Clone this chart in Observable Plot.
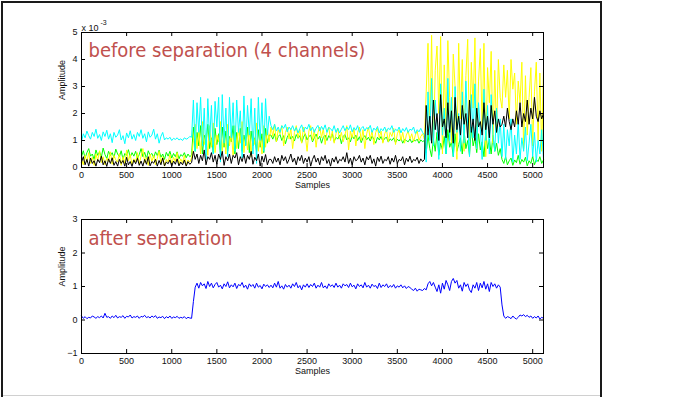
<!DOCTYPE html>
<html><head><meta charset="utf-8">
<script src="https://cdn.jsdelivr.net/npm/d3@7"></script>
<script src="https://cdn.jsdelivr.net/npm/@observablehq/plot@0.6"></script>
<style>
html,body{margin:0;padding:0;background:#fff;}
#fig{position:relative;width:675px;height:397px;overflow:hidden;background:#fff;}
#frame{position:absolute;left:1px;top:1px;width:597px;height:420px;border:2px solid #1a1a1a;border-bottom:none;}
#base{position:absolute;left:3px;top:395px;width:597px;height:1px;background:#d0d0d0;}
.p{position:absolute;left:0;}
</style>
</head><body>
<div id="fig"><div id="frame"></div><div id="base"></div><div class="p" id="top" style="top:0"></div><div class="p" id="bot" style="top:200px"></div></div>
<script>
// readings every 20 samples, from sample 0 to 5120
const sampleStep = 20;
const xTicks = [0, 500, 1000, 1500, 2000, 2500, 3000, 3500, 4000, 4500, 5000];
const topYTicks = [0, 1, 2, 3, 4, 5];
const bottomYTicks = [-1, 0, 1, 2, 3];

// before separation (units of 1e-3)
const greenCh = [
 0.40,0.62,0.35,0.55,0.70,0.42,0.50,0.30,0.65,0.45,
 0.58,0.38,0.72,0.48,0.33,0.60,0.44,0.55,0.36,0.68,
 0.50,0.40,0.62,0.30,0.52,0.45,0.66,0.38,0.55,0.42,
 0.60,0.34,0.48,0.70,0.40,0.56,0.32,0.62,0.46,0.52,
 0.36,0.58,0.44,0.64,0.38,0.50,0.30,0.56,0.42,0.60,
 0.35,0.52,0.40,0.58,0.32,0.48,0.42,0.55,0.36,0.50,
 0.40,0.46,
 1.50,0.60,1.30,0.80,1.55,0.50,1.20,0.90,1.60,0.70,
 1.10,0.55,1.45,0.85,1.25,0.50,1.50,0.75,1.35,0.60,
 1.15,0.95,1.55,0.50,1.30,0.70,1.45,0.60,1.20,0.85,
 1.50,0.55,1.35,0.80,1.10,0.60,1.40,0.75,1.25,0.55,
 1.45,0.90,1.20,
 1.20,1.05,1.25,0.95,1.15,1.22,1.00,1.18,0.88,1.12,
 1.25,1.05,1.15,0.98,1.22,1.08,1.18,0.92,1.12,1.25,
 1.02,1.15,1.20,0.95,1.10,1.24,1.05,1.16,0.90,1.12,
 1.20,1.00,1.18,1.08,1.25,0.96,1.12,1.05,1.20,0.88,
 1.15,1.22,1.02,1.10,0.95,1.18,1.06,1.20,1.00,1.14,
 0.92,1.10,1.18,1.02,1.12,0.98,1.16,1.05,0.90,1.12,
 1.02,1.15,0.96,1.08,1.12,0.94,1.06,1.00,1.10,0.92,
 1.05,0.98,1.08,0.90,1.04,1.00,0.95,1.06,0.92,1.02,
 0.98,1.05,0.90,1.02,0.96,1.00,
 0.55,1.20,0.70,0.40,1.05,0.60,1.30,0.45,0.90,0.65,
 1.15,0.50,1.40,0.75,0.95,0.40,1.25,0.60,0.85,1.10,
 0.50,1.35,0.70,1.00,0.45,1.50,0.80,1.10,0.55,1.25,
 0.65,0.95,0.40,1.30,0.70,1.05,0.50,1.20,0.60,0.90,
 0.45,0.70,
 0.30,0.15,0.40,0.10,0.25,0.35,0.08,0.28,0.18,0.45,
 0.12,0.30,0.20,0.38,0.06,0.25,0.15,0.42,0.10,0.30,
 0.22,0.40,0.15,0.28];
const yellowCh = [
 0.30,0.10,0.45,0.20,0.55,0.15,0.38,0.08,0.50,0.25,
 0.62,0.18,0.40,0.10,0.35,0.22,0.58,0.12,0.45,0.28,
 0.20,0.52,0.08,0.40,0.15,0.65,0.25,0.48,0.10,0.32,
 0.20,0.55,0.12,0.42,0.70,0.18,0.38,0.08,0.50,0.22,
 0.45,0.10,0.35,0.60,0.15,0.40,0.05,0.30,0.20,0.48,
 0.12,0.38,0.22,0.55,0.10,0.32,0.18,0.45,0.08,0.28,
 0.20,0.35,
 1.00,1.60,0.70,1.35,0.50,1.70,0.85,1.25,0.45,1.55,
 0.75,1.65,0.55,1.20,0.95,1.70,0.60,1.40,0.50,1.60,
 0.80,1.30,0.45,1.55,0.70,1.45,0.90,1.70,0.55,1.25,
 0.65,1.50,0.40,1.35,0.85,1.65,0.60,1.20,0.50,1.55,
 0.75,1.40,0.95,
 1.50,1.15,1.60,0.95,1.40,1.25,1.55,0.80,1.30,1.50,
 1.05,1.45,0.70,1.30,1.55,1.10,1.40,0.90,1.50,1.20,
 0.60,1.35,1.55,1.00,1.40,0.75,1.30,1.50,1.10,1.45,
 0.85,1.30,1.50,1.00,1.35,0.90,1.25,1.45,1.05,1.30,
 0.95,1.20,1.55,0.65,1.35,1.10,1.45,0.80,1.30,1.50,
 1.00,1.40,0.70,1.25,1.50,1.05,1.35,0.85,1.30,1.45,
 1.10,1.35,0.90,1.25,1.40,0.95,1.30,1.15,1.45,0.85,
 1.25,1.40,1.00,1.30,0.90,1.20,1.35,1.05,1.25,0.95,
 1.20,1.35,1.00,1.15,1.25,1.05,
 2.80,4.60,1.20,4.90,0.80,3.60,4.50,2.00,4.85,0.50,
 3.80,1.50,4.70,2.60,0.90,4.20,3.00,0.30,4.60,1.80,
 4.00,0.60,3.40,4.75,1.00,3.90,2.20,4.80,0.70,3.20,
 4.40,1.40,4.60,0.40,3.70,2.40,4.30,0.90,3.60,1.30,
 4.00,2.60,
 2.20,3.80,2.60,3.60,1.80,4.00,2.90,3.50,1.60,3.20,
 2.40,3.90,0.70,3.40,1.20,2.60,3.70,0.80,2.80,3.90,
 1.00,3.50,0.60,3.70];
const cyanCh = [
 0.95,1.25,1.10,1.35,1.18,1.05,1.30,1.15,1.42,1.08,
 1.22,1.00,1.32,1.15,1.38,1.05,1.25,0.92,1.30,1.12,
 1.20,1.40,1.02,1.18,0.88,1.28,1.10,1.36,1.05,1.22,
 1.00,1.30,1.15,1.40,1.08,1.25,0.95,1.32,1.12,1.20,
 1.42,1.05,1.25,0.90,1.15,1.30,1.02,1.10,1.05,1.12,
 1.00,1.08,1.04,1.10,1.02,1.06,1.00,1.10,1.05,1.08,
 1.15,1.12,
 2.50,0.60,2.40,1.30,2.60,0.80,2.20,0.30,2.55,1.00,
 2.30,0.50,2.45,1.50,2.60,0.20,2.70,0.90,2.20,0.40,
 2.60,1.10,2.40,0.60,2.50,1.30,2.10,0.35,2.65,0.80,
 2.30,1.20,2.55,0.50,2.20,0.15,2.60,1.00,2.40,0.60,
 2.55,1.20,1.90,
 1.55,1.40,1.60,1.35,1.50,1.30,1.55,1.45,1.60,1.32,
 1.50,1.40,1.55,1.35,1.48,1.28,1.45,1.58,1.32,1.50,
 1.42,1.60,1.36,1.50,1.30,1.46,1.56,1.35,1.52,1.40,
 1.58,1.30,1.48,1.44,1.35,1.55,1.30,1.46,1.28,1.42,
 1.55,1.36,1.50,1.40,1.58,1.32,1.48,1.38,1.55,1.30,
 1.45,1.52,1.35,1.48,1.42,1.56,1.30,1.46,1.38,1.52,
 1.28,1.44,1.36,1.50,1.32,1.46,1.40,1.55,1.30,1.42,
 1.36,1.50,1.28,1.44,1.34,1.48,1.30,1.42,1.38,1.50,
 1.26,1.40,1.32,1.45,1.30,1.20,
 0.20,2.80,1.00,3.30,0.80,2.50,1.60,0.30,3.10,1.20,
 2.20,0.50,3.30,1.00,2.60,0.40,3.00,1.30,2.00,0.60,
 2.80,0.90,3.20,1.50,0.40,2.70,1.10,3.10,0.70,2.40,
 1.40,0.30,2.90,1.00,2.30,0.50,2.70,1.20,0.60,2.20,
 0.90,1.80,
 0.40,1.60,0.30,1.40,0.80,1.80,0.20,1.20,0.50,1.70,
 0.30,1.10,0.60,1.50,0.25,0.90,1.60,0.40,1.30,0.20,
 1.00,0.50,1.40,0.30];
const blackCh = [
 0.20,0.40,0.10,0.30,0.05,0.35,0.15,0.25,0.05,0.30,
 0.18,0.42,0.10,0.25,0.04,0.32,0.15,0.36,0.08,0.22,
 0.05,0.30,0.15,0.26,0.05,0.38,0.10,0.22,0.04,0.28,
 0.14,0.34,0.08,0.24,0.05,0.30,0.12,0.40,0.06,0.22,
 0.16,0.30,0.05,0.26,0.10,0.35,0.06,0.20,0.14,0.28,
 0.05,0.24,0.12,0.32,0.06,0.20,0.10,0.28,0.05,0.22,
 0.12,0.18,
 0.60,0.30,0.50,0.15,0.45,0.25,0.65,0.10,0.40,0.30,
 0.55,0.20,0.45,0.12,0.50,0.30,0.60,0.08,0.40,0.25,
 0.50,0.15,0.45,0.35,0.55,0.10,0.40,0.22,0.50,0.15,
 0.45,0.30,0.60,0.12,0.38,0.25,0.50,0.05,0.42,0.20,
 0.48,0.10,0.30,
 0.30,0.15,0.40,0.20,0.35,0.10,0.45,0.25,0.40,0.15,
 0.30,0.50,0.20,0.35,0.10,0.40,0.25,0.45,0.15,0.35,
 0.20,0.40,0.05,0.30,0.45,0.20,0.35,0.10,0.40,0.25,
 0.45,0.15,0.30,0.05,0.35,0.20,0.40,0.15,0.30,0.25,
 0.40,0.20,0.55,0.15,0.35,0.10,0.40,0.25,0.30,0.45,
 0.20,0.35,0.10,0.40,0.28,0.45,0.15,0.32,0.05,0.38,
 0.22,0.42,0.15,0.30,0.25,0.40,0.12,0.35,0.20,0.45,
 0.15,0.30,0.25,0.40,0.10,0.35,0.22,0.42,0.18,0.30,
 0.25,0.38,0.15,0.32,0.22,0.30,
 2.30,1.20,1.90,0.90,2.50,1.40,2.00,1.00,2.70,1.50,
 1.80,1.10,2.40,1.30,2.10,0.90,2.60,1.40,1.90,1.20,
 2.30,1.60,2.00,1.10,2.50,1.30,1.80,1.00,2.20,1.50,
 1.70,1.20,2.40,1.40,1.90,1.10,2.30,1.60,2.10,1.30,
 1.80,1.50,
 1.60,1.90,1.50,2.20,1.70,1.40,1.80,1.50,2.10,1.60,
 2.40,1.50,2.00,1.70,2.50,1.60,2.20,1.80,2.60,1.90,
 1.70,2.10,1.80,2.00];

// after separation
const separated = [
 0.12,0.05,0.10,0.04,0.08,0.06,0.12,0.09,0.05,0.10,
 0.07,0.12,0.06,0.20,0.08,0.10,0.05,0.12,0.07,0.14,
 0.06,0.10,0.08,0.13,0.05,0.11,0.09,0.15,0.06,0.10,
 0.08,0.12,0.05,0.11,0.09,0.14,0.07,0.10,0.06,0.12,
 0.08,0.13,0.05,0.09,0.07,0.11,0.04,0.10,0.06,0.12,
 0.05,0.09,0.07,0.11,0.05,0.08,0.06,0.10,0.04,0.08,
 0.06,0.05,
 0.55,0.98,1.10,0.95,1.12,1.02,1.08,0.94,1.15,1.00,
 1.10,0.96,1.06,1.12,0.98,1.04,0.93,1.08,1.00,1.14,
 0.96,1.05,0.99,1.10,0.94,1.06,1.02,1.12,0.97,1.04,
 0.92,1.08,1.00,1.06,0.95,1.10,0.98,1.03,0.93,1.07,
 1.00,1.05,0.97,
 1.04,0.96,1.10,0.98,1.15,0.95,1.02,0.92,1.06,0.98,
 1.04,0.95,1.08,1.00,1.12,0.96,1.03,0.90,1.05,0.98,
 1.08,0.97,1.06,1.00,1.10,0.95,1.04,0.98,1.12,0.96,
 1.02,0.94,1.08,1.00,1.05,0.97,1.10,0.98,1.04,0.95,
 1.08,1.02,1.06,0.97,1.10,0.99,1.04,0.93,1.08,1.00,
 1.05,0.96,1.12,0.98,1.04,0.95,1.07,1.00,1.03,0.94,
 1.10,0.97,1.05,1.00,1.08,0.96,1.03,0.98,1.06,0.95,
 1.02,0.98,1.05,0.96,1.02,0.94,1.00,0.97,0.92,0.88,
 0.95,0.86,0.92,0.90,0.88,0.94,
 0.90,1.08,1.15,1.02,1.12,0.98,0.85,1.05,0.80,1.10,
 0.92,1.18,1.05,0.88,1.15,1.24,1.10,1.18,0.95,1.05,
 0.86,1.12,1.00,1.08,0.90,0.82,1.05,0.95,1.12,0.88,
 1.10,0.96,1.15,0.92,1.08,0.85,1.12,1.00,1.08,0.95,
 1.05,0.98,
 0.45,0.12,0.05,0.10,0.08,0.04,0.12,0.06,0.03,0.08,
 0.15,0.12,0.16,0.10,0.14,0.08,0.12,0.05,0.10,0.06,
 0.12,0.03,0.08,0.05];

const channels = [
  {name: "green", values: greenCh, color: "#00ff00"},
  {name: "yellow", values: yellowCh, color: "#ffff00"},
  {name: "cyan", values: cyanCh, color: "#00ffff"},
  {name: "black", values: blackCh, color: "#000000"}
];

const W = 675, ML = 81, MR = 132;
const innerW = W - ML - MR;
const tickFont = "Liberation Sans, Arial, sans-serif";
const fmt = d3.format("d");

function axisMarks(yT, innerH) {
  return [
    Plot.ruleX(xTicks, {insetTop: innerH - 4, stroke: "#000"}),
    Plot.ruleX(xTicks, {insetBottom: innerH - 4, stroke: "#000"}),
    Plot.ruleY(yT, {insetRight: innerW - 4, stroke: "#000"}),
    Plot.ruleY(yT, {insetLeft: innerW - 4, stroke: "#000"}),
    Plot.frame({stroke: "#000"}),
    Plot.axisX(xTicks, {tickSize: 0, tickPadding: 4, label: null, fill: "#111", tickFormat: fmt}),
    Plot.axisY(yT, {tickSize: 0, tickPadding: 4, label: null, fill: "#111", tickFormat: fmt}),
    Plot.text(["Samples"], {frameAnchor: "bottom", dy: 20, fill: "#111"}),
    Plot.text(["Amplitude"], {frameAnchor: "left", dx: -19, rotate: -90, fill: "#111"})
  ];
}

function table(values) {
  return values.map((v, i) => ({s: i * sampleStep, v}));
}

const topH = 200, topMT = 32, topMB = 33;
const topPlot = Plot.plot({
  width: W, height: topH,
  marginTop: topMT, marginBottom: topMB, marginLeft: ML, marginRight: MR,
  style: {fontFamily: tickFont, fontSize: "9px", background: "transparent", overflow: "visible"},
  x: {domain: [0, 5120]},
  y: {domain: [0, 5]},
  marks: [
    ...channels.map(c => Plot.line(table(c.values), {x: "s", y: "v", stroke: c.color, strokeWidth: 1})),
    ...axisMarks(topYTicks, topH - topMT - topMB),
    Plot.text(["x 10"], {frameAnchor: "top-left", dy: -8, textAnchor: "start", fill: "#111"}),
    Plot.text(["-3"], {frameAnchor: "top-left", dx: 19, dy: -12, textAnchor: "start", fontSize: 7, fill: "#111"}),
    Plot.text(["before separation (4 channels)"], {frameAnchor: "top-left", dx: 7, dy: 24.7, textAnchor: "start", lineAnchor: "bottom", fill: "#c0504d", fontSize: 20, fontFamily: "DejaVu Sans Condensed"})
  ]
});
document.getElementById("top").appendChild(topPlot);

const botH = 197, botMT = 19, botMB = 44;
const botPlot = Plot.plot({
  width: W, height: botH,
  marginTop: botMT, marginBottom: botMB, marginLeft: ML, marginRight: MR,
  style: {fontFamily: tickFont, fontSize: "9px", background: "transparent", overflow: "visible"},
  x: {domain: [0, 5120]},
  y: {domain: [-1, 3]},
  marks: [
    Plot.line(table(separated), {x: "s", y: "v", stroke: "#0000ff", strokeWidth: 1}),
    ...axisMarks(bottomYTicks, botH - botMT - botMB),
    Plot.text(["after separation"], {frameAnchor: "top-left", dx: 7, dy: 25, textAnchor: "start", lineAnchor: "bottom", fill: "#c0504d", fontSize: 20, fontFamily: "DejaVu Sans Condensed"})
  ]
});
document.getElementById("bot").appendChild(botPlot);
</script>
</body></html>
